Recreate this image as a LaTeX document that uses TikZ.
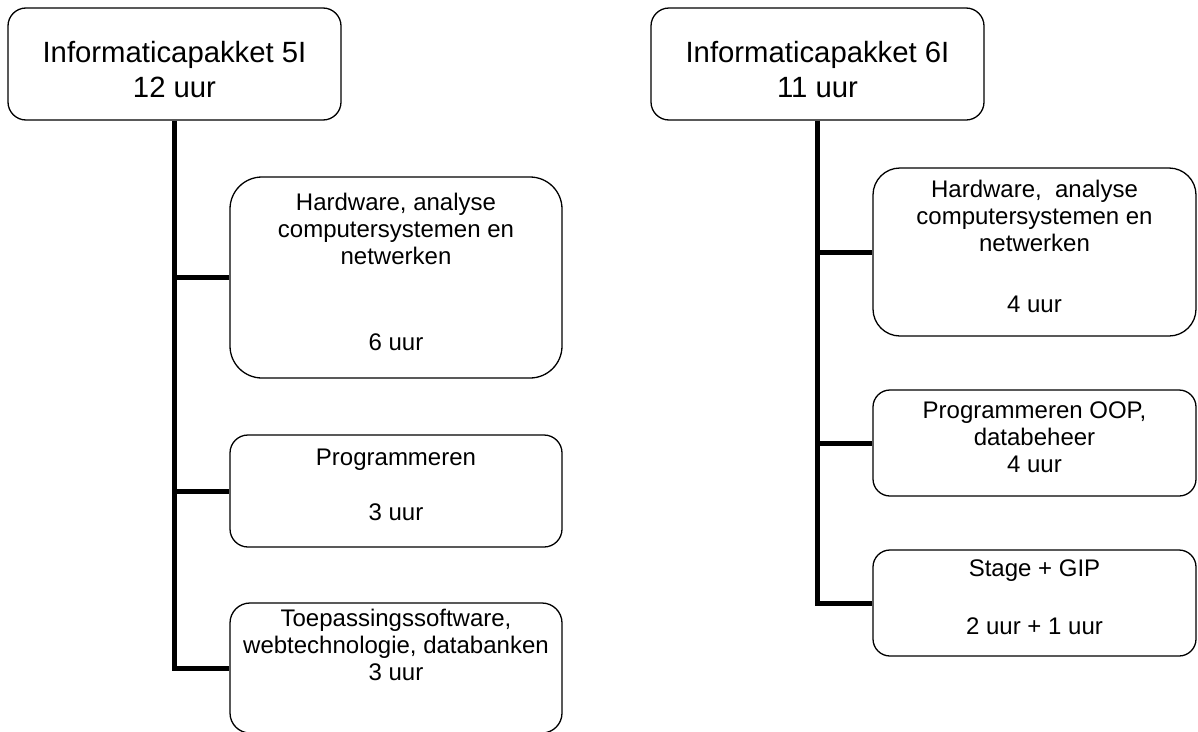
\documentclass[tikz,border=0pt]{standalone}
\usepackage{fontspec}
\setmainfont{Liberation Sans}
\newcommand{\bovenruimte}{\rule{0pt}{33pt}}
\begin{document}
\begin{tikzpicture}[x=1pt,y=-1pt,
  hoofd/.style={draw,line width=1.3pt,align=center,inner sep=0pt,
    font=\fontsize{29.3}{35}\selectfont},
  vak/.style={draw,line width=1.3pt,align=center,inner sep=0pt,
    font=\fontsize{24}{27.3}\selectfont,
    execute at end node={\rule[-12pt]{0pt}{0pt}}},
  stam/.style={line width=5pt}]
\useasboundingbox (0,0) rectangle (1198,731);
\clip (0,0) rectangle (1198,731);

% pakket 5I
\node[hoofd,minimum width=333pt,minimum height=112pt,rounded corners=18pt] (p5) at (174.5,64) {\bovenruimte Informaticapakket 5I\\12 uur};
\node[vak,minimum width=332pt,minimum height=201pt,rounded corners=32pt] (p5a) at (396,277.5) {Hardware, analyse\\computersystemen en\\netwerken\\[58pt]6 uur};
\node[vak,minimum width=332pt,minimum height=112pt,rounded corners=18pt] (p5b) at (396,491) {Programmeren\\[28pt]3 uur};
\node[vak,minimum width=332pt,minimum height=130pt,rounded corners=20pt] (p5c) at (396,668) {Toepassingssoftware,\\webtechnologie, databanken\\3 uur\\[7pt]\mbox{}};

\draw[stam] (p5.south) |- (p5c.west);
\draw[stam] (p5.south |- p5a.west) -- (p5a.west);
\draw[stam] (p5.south |- p5b.west) -- (p5b.west);

% pakket 6I
\node[hoofd,minimum width=333pt,minimum height=112pt,rounded corners=18pt] (p6) at (817.5,64) {\bovenruimte Informaticapakket 6I\\11 uur};
\node[vak,minimum width=323pt,minimum height=168pt,rounded corners=27pt] (p6a) at (1034.5,252) {Hardware,~ analyse\\computersystemen en\\netwerken\\[33pt]4 uur};
\node[vak,minimum width=323pt,minimum height=106pt,rounded corners=17pt] (p6b) at (1034.5,443) {Programmeren OOP,\\databeheer\\4 uur};
\node[vak,minimum width=323pt,minimum height=106pt,rounded corners=17pt] (p6c) at (1034.5,603) {Stage + GIP\\[31pt]2 uur + 1 uur};

\draw[stam] (p6.south) |- (p6c.west);
\draw[stam] (p6.south |- p6a.west) -- (p6a.west);
\draw[stam] (p6.south |- p6b.west) -- (p6b.west);
\end{tikzpicture}
\end{document}
